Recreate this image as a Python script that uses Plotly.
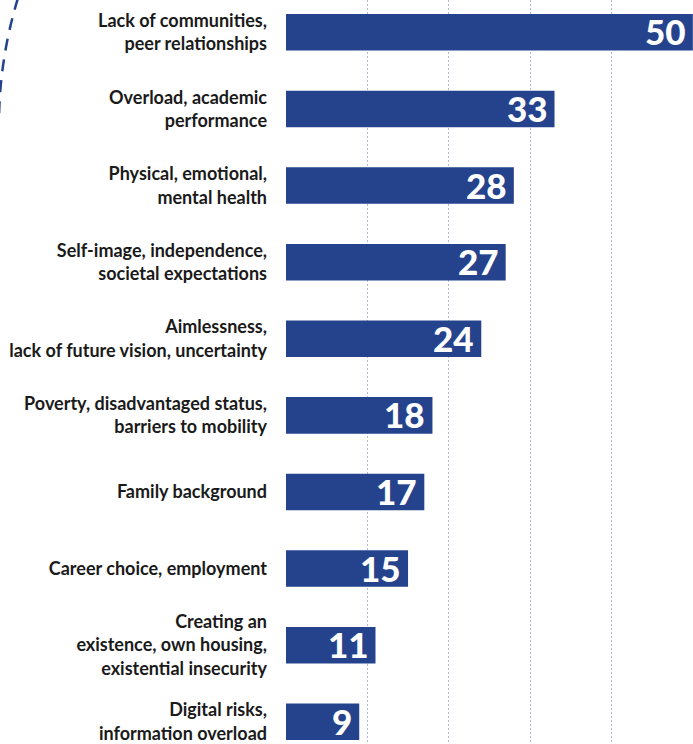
import plotly.graph_objects as go

# Reasons named, share of responses
categories = [
    "Lack of communities,<br>peer relationships",
    "Overload, academic<br>performance",
    "Physical, emotional,<br>mental health",
    "Self-image, independence,<br>societal expectations",
    "Aimlessness,<br>lack of future vision, uncertainty",
    "Poverty, disadvantaged status,<br>barriers to mobility",
    "Family background",
    "Career choice, employment",
    "Creating an<br>existence, own housing,<br>existential insecurity",
    "Digital risks,<br>information overload",
]
values = [50, 33, 28, 27, 24, 18, 17, 15, 11, 9]
grid_ticks = [10, 20, 30, 40]

BAR_BLUE = "#25428c"
FONT = "Lato"

fig = go.Figure()
fig.add_trace(go.Bar(
    x=values,
    y=categories,
    orientation="h",
    marker=dict(color=BAR_BLUE, line=dict(width=0)),
    width=0.477,
    hoverinfo="skip",
))

# value labels sitting inside the end of each bar
for cat, val in zip(categories, values):
    fig.add_annotation(
        x=val, y=cat, xref="x", yref="y",
        text=str(val), showarrow=False,
        xanchor="right", yanchor="middle", xshift=-5, yshift=1,
        font=dict(family=FONT, size=35, color="white", weight=900),
    )

# decorative dashed arc on the left edge
fig.add_shape(
    type="path", xref="paper", yref="paper",
    path="M -0.6585,1.0027 Q -0.7027,0.9234 -0.7052,0.8414",
    line=dict(color=BAR_BLUE, width=2.5, dash="12px,9px"),
    layer="above",
)

fig.update_layout(
    width=693, height=744,
    margin=dict(l=286, r=0, t=0, b=0),
    paper_bgcolor="white", plot_bgcolor="white",
    showlegend=False,
    font=dict(family=FONT, color="#1a1a1a"),
    xaxis=dict(
        range=[0, 50.02], tickvals=grid_ticks, showticklabels=False,
        showgrid=True, gridcolor="#aeb8da", gridwidth=1, griddash="2px,2px",
        zeroline=False, showline=False, fixedrange=True,
    ),
    yaxis=dict(
        range=[9.29, -0.422], showgrid=False, zeroline=False, showline=False,
        ticks="", ticklabelstandoff=18,
        tickfont=dict(family=FONT, size=18, color="#1a1a1a", weight="bold"),
        fixedrange=True,
    ),
)

fig.write_html("out.html")
